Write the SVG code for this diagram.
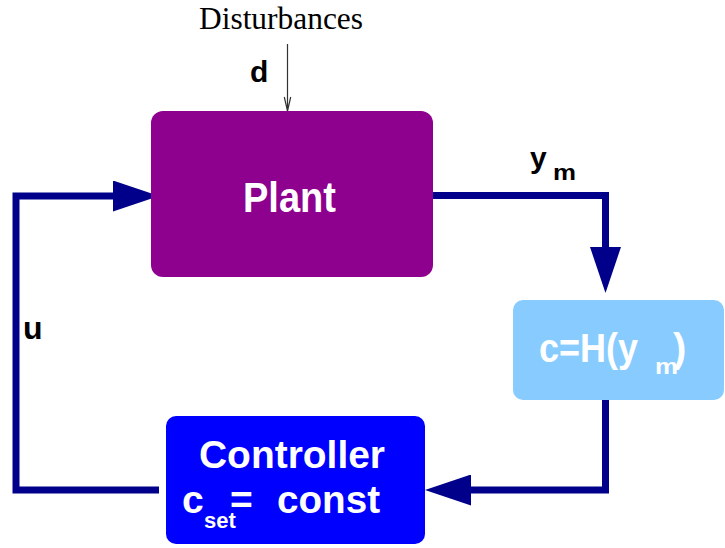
<svg xmlns="http://www.w3.org/2000/svg" width="725" height="548" viewBox="0 0 725 548">
<style>
.lbl{font-family:"Liberation Sans",Arial,sans-serif;font-weight:bold;}
.w{fill:#ffffff}
.k{fill:#000000}
.conn{fill:none;stroke:#00008B;stroke-width:7;stroke-linejoin:miter;stroke-linecap:butt}
.thin{fill:none;stroke:#333333;stroke-width:1.2}
</style>
<defs>
<marker id="ah" markerUnits="userSpaceOnUse" markerWidth="46" markerHeight="31" viewBox="0 0 46 31" refX="0" refY="15.5" orient="auto">
<path d="M0,0 L46,15.5 L0,31 Z" fill="#00008B"/>
</marker>
</defs>
<g id="connectors">
<path class="conn" d="M159,490 H16 V196 H113" marker-end="url(#ah)"/>
<path class="conn" d="M433,195.5 H605.5 V247" marker-end="url(#ah)"/>
<path class="conn" d="M605.5,400 V490 H471" marker-end="url(#ah)"/>
<path class="thin" d="M287.5,44 V111 M284.3,97 L287.5,111 L290.7,97"/>
</g>
<g id="plant">
<rect x="151" y="111" width="282" height="166" rx="12" fill="#8E008E"/>
<text class="lbl w" x="289.5" y="212" font-size="42" text-anchor="middle" textLength="93" lengthAdjust="spacingAndGlyphs">Plant</text>
</g>
<g id="hfunc">
<rect x="513" y="300" width="211" height="100" rx="10" fill="#88CCFF"/>
<text class="lbl w" x="539" y="362" font-size="40" textLength="99" lengthAdjust="spacingAndGlyphs">c=H(y</text>
<text class="lbl w" x="655" y="374" font-size="22" textLength="23" lengthAdjust="spacingAndGlyphs">m</text>
<text class="lbl w" x="673" y="362" font-size="40">)</text>
</g>
<g id="controller">
<rect x="166" y="416" width="259" height="128" rx="10" fill="#0000FF"/>
<text class="lbl w" x="292" y="468" font-size="39" text-anchor="middle" textLength="186" lengthAdjust="spacingAndGlyphs">Controller</text>
<text class="lbl w" x="182" y="513" font-size="39">c</text>
<text class="lbl w" x="204" y="528" font-size="22">set</text>
<text class="lbl w" x="230" y="513" font-size="39">=</text>
<text class="lbl w" x="277" y="513" font-size="39" textLength="103" lengthAdjust="spacingAndGlyphs">const</text>
</g>
<g id="labels">
<text x="281" y="28.5" font-family="'Liberation Serif','Times New Roman',serif" font-size="31" text-anchor="middle" textLength="164" lengthAdjust="spacingAndGlyphs" fill="#000">Disturbances</text>
<text class="lbl k" x="250" y="82" font-size="30">d</text>
<text class="lbl k" x="530" y="168" font-size="30">y</text>
<text class="lbl k" x="553" y="180" font-size="22" textLength="23" lengthAdjust="spacingAndGlyphs">m</text>
<text class="lbl k" x="23" y="339" font-size="32">u</text>
</g>
</svg>
